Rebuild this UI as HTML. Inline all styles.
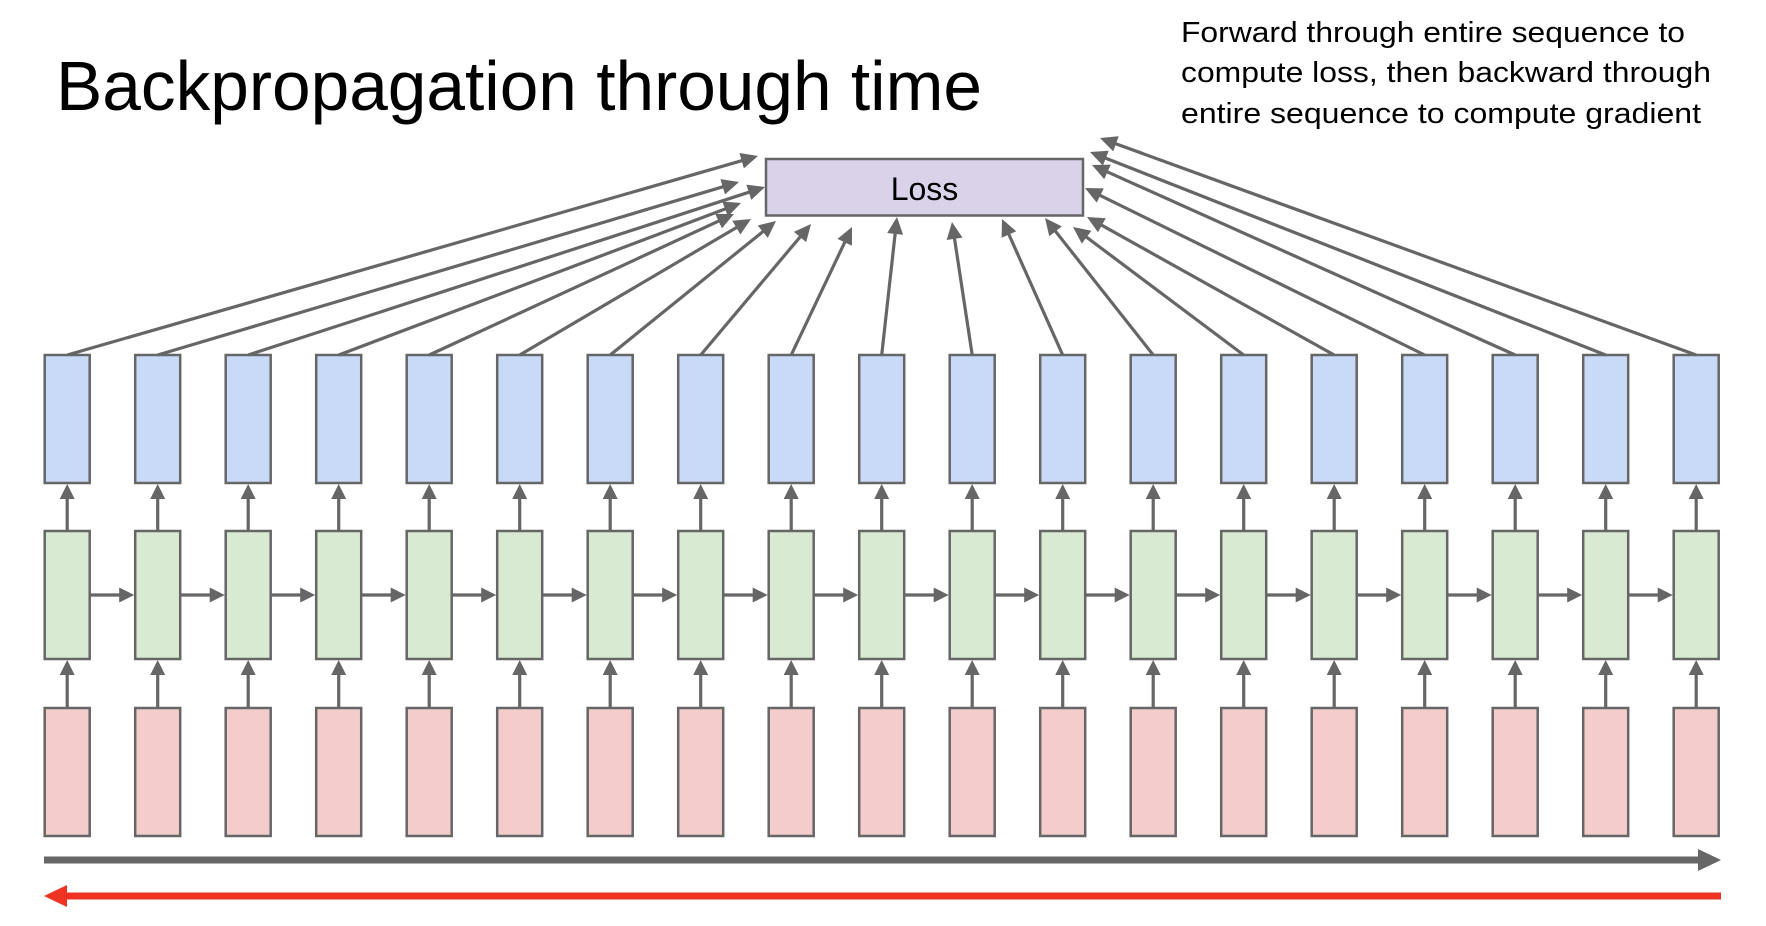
<!DOCTYPE html>
<html><head><meta charset="utf-8"><style>
html,body{margin:0;padding:0;background:#fff;width:1766px;height:926px;overflow:hidden}
svg{display:block}
</style></head><body>
<svg id="s" width="1766" height="926" viewBox="0 0 1766 926" xmlns="http://www.w3.org/2000/svg">
<text x="56" y="110" font-family="Liberation Sans, sans-serif" font-size="70" fill="#000" textLength="926" lengthAdjust="spacingAndGlyphs">Backpropagation through time</text>
<g font-family="Liberation Sans, sans-serif" font-size="29" fill="#000">
<text x="1181" y="42" textLength="504" lengthAdjust="spacingAndGlyphs">Forward through entire sequence to</text>
<text x="1181" y="82" textLength="530" lengthAdjust="spacingAndGlyphs">compute loss, then backward through</text>
<text x="1181" y="123" textLength="520" lengthAdjust="spacingAndGlyphs">entire sequence to compute gradient</text>
</g>
<rect x="766" y="159" width="317" height="56.5" fill="#d9d2e9" stroke="#666" stroke-width="2.5"/>
<text x="924.5" y="200" text-anchor="middle" font-family="Liberation Sans, sans-serif" font-size="32" fill="#000">Loss</text>
<g id="g"></g>
</svg>
<script>
var g=document.getElementById('g'),h='';
function arrow(x1,y1,x2,y2,col,w,L,H){var dx=x2-x1,dy=y2-y1,d=Math.hypot(dx,dy),ux=dx/d,uy=dy/d;
var bx=x2-ux*L,by=y2-uy*L,px=-uy*H,py=ux*H;
h+='<line x1="'+x1+'" y1="'+y1+'" x2="'+(bx+ux*1)+'" y2="'+(by+uy*1)+'" stroke="'+col+'" stroke-width="'+w+'"/>';
h+='<polygon points="'+x2+','+y2+' '+(bx+px)+','+(by+py)+' '+(bx-px)+','+(by-py)+'" fill="'+col+'"/>';}
var W=45,P=90.5,X0=44.7;
var tips=[[758,156],[739,182],[765,187],[741,203],[734,214],[751,219],[776,221],[811,224],[852,227],[897,217],[952,222],[1002,219],[1045,218],[1073,227],[1087,217],[1085,188],[1092,165],[1090,152],[1100,138]];
for(var i=0;i<19;i++){var x=X0+P*i,c=x+W/2;
h+='<rect x="'+x+'" y="355" width="'+W+'" height="128" fill="#c9daf8" stroke="#666" stroke-width="2.5"/>';
h+='<rect x="'+x+'" y="531" width="'+W+'" height="128" fill="#d9ead3" stroke="#666" stroke-width="2.5"/>';
h+='<rect x="'+x+'" y="708" width="'+W+'" height="128" fill="#f4cccc" stroke="#666" stroke-width="2.5"/>';
arrow(c,531,c,484,'#666',3.2,15,7.5);
arrow(c,708,c,660,'#666',3.2,15,7.5);
if(i<18)arrow(x+W,595,x+P-1,595,'#666',3.2,15,7.5);
arrow(c,355,tips[i][0],tips[i][1],'#666',3.2,17,8);}
arrow(44,860,1721,860,'#666',7,23,11);
h+='<line x1="65" y1="896" x2="1721" y2="896" stroke="#ee3322" stroke-width="7"/>';
h+='<polygon points="44,896 67,885 67,907" fill="#ee3322"/>';
g.innerHTML=h;
</script>
</body></html>
